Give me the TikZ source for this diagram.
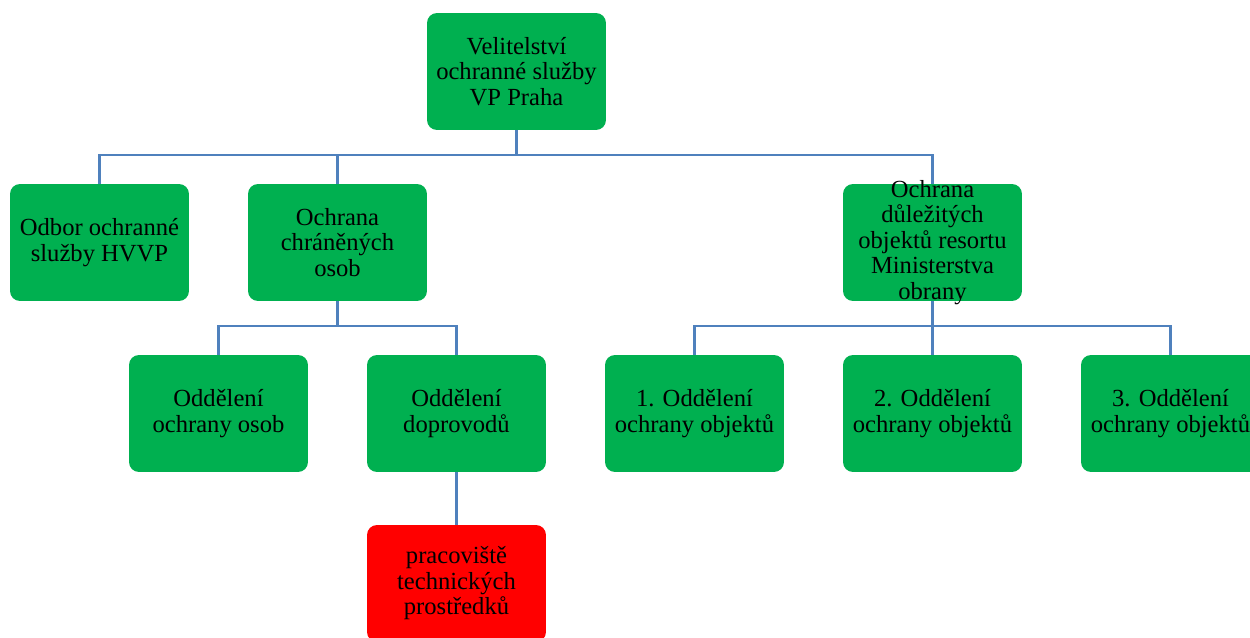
\documentclass[tikz,border=0pt]{standalone}
\usepackage{fontspec}
\setmainfont{Liberation Serif}
\definecolor{unitgreen}{HTML}{00B050}
\definecolor{linkblue}{HTML}{4F81BD}

\begin{document}
\begin{tikzpicture}[x=0.02cm,y=-0.02cm,
  unit/.style={rectangle,rounded corners=0.2cm,fill=unitgreen,minimum width=3.58cm,
    minimum height=2.34cm,inner sep=0pt,align=center,font=\fontsize{14}{14.5}\selectfont},
  tech/.style={unit,fill=red},
  link/.style={draw=linkblue,line width=1.2pt}]
\useasboundingbox[fill=white] (0,0) rectangle (1250,638);

% top
  \node[unit] (velit) at (516.5,71.5) {Velitelství\\ochranné služby\\VP Praha};

% second row
  \node[unit] (odbor) at (99.5,242.5) {Odbor ochranné\\služby HVVP};
  \node[unit] (chran) at (337.5,242.5) {Ochrana\\chráněných\\osob};
  \node[unit,inner ysep=-8pt] (dulez) at (932.5,242.5) {Ochrana\\důležitých\\objektů resortu\\Ministerstva\\obrany};

% third row
  \node[unit] (osob) at (218.5,413.5) {Oddělení\\ochrany osob};
  \node[unit] (dopr) at (456.5,413.5) {Oddělení\\doprovodů};
  \node[unit] (obj1) at (694.5,413.5) {1. Oddělení\\ochrany objektů};
  \node[unit] (obj2) at (932.5,413.5) {2. Oddělení\\ochrany objektů};
  \node[unit] (obj3) at (1170.5,413.5) {3. Oddělení\\ochrany objektů};

% bottom
  \node[tech] (tech) at (456.5,583.5) {pracoviště\\technických\\prostředků};

% connectors
  \coordinate (bus1) at (516.5,155);
  \coordinate (bus2) at (337.5,326);
  \coordinate (bus3) at (932.5,326);

  \draw[link] (velit.south) -- (bus1) -| (odbor.north);
  \draw[link] (bus1) -| (chran.north);
  \draw[link] (bus1) -| (dulez.north);

  \draw[link] (chran.south) -- (bus2) -| (osob.north);
  \draw[link] (bus2) -| (dopr.north);

  \draw[link] (dulez.south) -- (bus3) -| (obj1.north);
  \draw[link] (bus3) -- (obj2.north);
  \draw[link] (bus3) -| (obj3.north);

  \draw[link] (dopr.south) -- (tech.north);

\end{tikzpicture}
\end{document}
